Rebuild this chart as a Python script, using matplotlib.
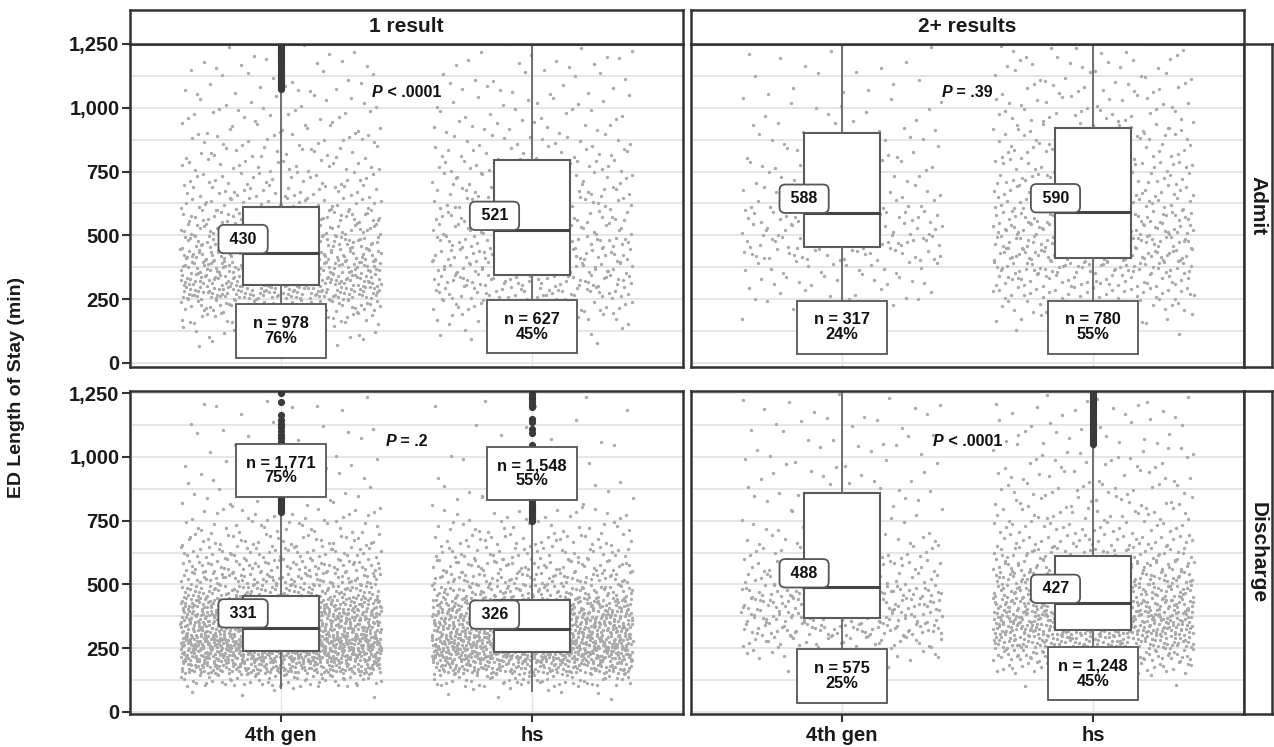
import matplotlib
matplotlib.use("Agg")
import matplotlib.pyplot as plt
from matplotlib.patches import Rectangle
from matplotlib.offsetbox import TextArea, HPacker, AnnotationBbox

plt.rcParams['font.family'] = ['Liberation Sans', 'DejaVu Sans']

# ---------------- data ----------------
rows = ['Admit', 'Discharge']
cols = ['1 result', '2+ results']
cats = ['4th gen', 'hs']
yticks = [0, 250, 500, 750, 1000, 1250]
ytick_labels = ['0', '250', '500', '750', '1,000', '1,250']

# counts of observations in 50-min bins from 0 to 1250 (estimated from the dot clouds)
bin_lo = list(range(0, 1250, 50))
admit_1_4th = [0, 8, 15, 35, 60, 110, 110, 100, 90, 75, 60, 55, 38, 30, 25, 22, 20, 18, 15, 13, 11, 10, 8, 7, 6]
admit_1_hs = [0, 4, 10, 18, 28, 45, 52, 48, 46, 44, 34, 33, 30, 28, 26, 24, 18, 15, 13, 11, 10, 9, 8, 7, 6]
admit_2_4th = [0, 0, 0, 2, 6, 10, 13, 16, 28, 30, 30, 28, 16, 14, 12, 12, 11, 10, 8, 6, 5, 5, 4, 4, 3]
admit_2_hs = [0, 0, 3, 12, 25, 35, 40, 55, 60, 58, 55, 50, 38, 33, 30, 28, 25, 24, 22, 18, 16, 14, 12, 11, 10]
disch_1_4th = [0, 5, 60, 170, 240, 270, 200, 190, 170, 100, 80, 65, 50, 35, 25, 18, 12, 10, 8, 7, 6, 5, 5, 4, 4]
disch_1_hs = [0, 8, 55, 150, 220, 230, 190, 175, 145, 90, 70, 55, 40, 30, 22, 15, 10, 7, 5, 4, 3, 3, 3, 2, 3]
disch_2_4th = [0, 0, 0, 3, 20, 35, 58, 62, 62, 56, 35, 30, 25, 18, 10, 9, 9, 8, 8, 7, 7, 6, 6, 6, 5]
disch_2_hs = [0, 0, 5, 40, 80, 120, 150, 150, 120, 100, 85, 70, 50, 35, 28, 24, 20, 18, 15, 13, 12, 10, 9, 8, 7]

# box statistics, order: A1-4th, A1-hs, A2-4th, A2-hs, D1-4th, D1-hs, D2-4th, D2-hs
medians = [430, 521, 588, 590, 331, 326, 488, 427]
q1s = [306, 343, 456, 413, 239, 235, 368, 321]
q3s = [612, 795, 902, 921, 456, 439, 859, 612]
whis_lo = [60, 55, 195, 130, 95, 84, 210, 150]
whis_hi = [1071, 1450, 1450, 1450, 781, 745, 1450, 1048]
outliers_a1_4th = [1072, 1080, 1088, 1095, 1103, 1110, 1118, 1126, 1134, 1142, 1150, 1158, 1166,
                   1174, 1182, 1190, 1198, 1206, 1214, 1222, 1230, 1238, 1246]
outliers_d1_4th = [785, 792, 800, 808, 816, 824, 832, 840, 850, 860, 870, 880, 890, 900, 910, 920,
                   930, 940, 950, 960, 970, 980, 990, 1000, 1010, 1020, 1030, 1040, 1050, 1060,
                   1072, 1085, 1100, 1115, 1130, 1144, 1164, 1216, 1250]
outliers_d1_hs = [748, 755, 762, 770, 778, 786, 795, 805, 815, 825, 835, 850, 870, 890, 910, 930,
                  950, 970, 990, 1010, 1030, 1046, 1095, 1110, 1135, 1150, 1195, 1205, 1215, 1225,
                  1235, 1245]
outliers_d2_hs = [1050, 1058, 1066, 1074, 1082, 1090, 1098, 1106, 1114, 1122, 1130, 1138, 1146,
                  1154, 1162, 1170, 1178, 1186, 1194, 1202, 1210, 1218, 1226, 1234, 1242, 1250]
n_labels = ['n = 978\n76%', 'n = 627\n45%', 'n = 317\n24%', 'n = 780\n55%',
            'n = 1,771\n75%', 'n = 1,548\n55%', 'n = 575\n25%', 'n = 1,248\n45%']
n_label_y = [125, 141, 139, 139, 948, 936, 141, 149]
p_labels = [('P', ' < .0001'), ('P', ' = .39'), ('P', ' = .2'), ('P', ' < .0001')]
p_label_y = [1058, 1058, 1062, 1062]

bins = [admit_1_4th, admit_1_hs, admit_2_4th, admit_2_hs,
        disch_1_4th, disch_1_hs, disch_2_4th, disch_2_hs]
outliers = [outliers_a1_4th, [], [], [], outliers_d1_4th, outliers_d1_hs, [], outliers_d2_hs]

# ---------------- layout ----------------
W, H = 1274, 747
fig = plt.figure(figsize=(W / 100, H / 100), dpi=100)
fig.patch.set_facecolor('white')


def rect(x0, y0, x1, y1):
    return [x0 / W, 1 - y1 / H, (x1 - x0) / W, (y1 - y0) / H]


col_px = [(130, 683), (691, 1244)]
row_px = [(44, 367), (391, 714)]
ylims = [(-16, 1250), (-8, 1258)]
BORDER = '#333333'
GRID = '#e4e4e4'
DOT = '#a9a9a9'


def vdc(k, base):
    f, res = 1.0, 0.0
    while k > 0:
        f /= base
        res += f * (k % base)
        k //= base
    return res


def jitter_points(counts, pos, start, width=0.4):
    # deterministic low-discrepancy (Halton) placement of each counted observation in its bin
    xs, ys = [], []
    k = start
    for lo, c in zip(bin_lo, counts):
        for _ in range(c):
            k += 1
            xs.append(pos + width * (2 * vdc(k, 2) - 1))
            ys.append(lo + 50 * vdc(k, 3))
    return xs, ys


for r in range(2):
    for c in range(2):
        x0, x1 = col_px[c]
        y0, y1 = row_px[r]
        ax = fig.add_axes(rect(x0, y0, x1, y1))
        ax.set_xlim(0.4, 2.6)
        ax.set_ylim(*ylims[r])
        for v in range(0, 1251, 125):
            ax.axhline(v, color=GRID, lw=1.3, zorder=0)
        for p in (1, 2):
            ax.axvline(p, color=GRID, lw=1.0, zorder=0)

        stats = []
        for j in range(2):
            g = r * 4 + c * 2 + j
            xs, ys = jitter_points(bins[g], j + 1, start=17 + 311 * g)
            ax.plot(xs, ys, 'o', ms=2.4, color=DOT, mec='none', zorder=2)
            stats.append(dict(med=medians[g], q1=q1s[g], q3=q3s[g],
                              whislo=whis_lo[g], whishi=whis_hi[g], fliers=outliers[g]))
        ax.bxp(stats, positions=[1, 2], widths=0.3, patch_artist=True, showcaps=False,
               manage_ticks=False,
               boxprops=dict(facecolor='white', edgecolor='#5a5a5a', lw=1.5),
               medianprops=dict(color='#444444', lw=2.2),
               whiskerprops=dict(color='#666666', lw=1.3),
               flierprops=dict(marker='o', ms=5.2, mfc='#3a3a3a', mec='none'),
               zorder=3)

        for j in range(2):
            g = r * 4 + c * 2 + j
            p = j + 1
            ax.annotate(f' {medians[g]} ', xy=(p - 0.15, medians[g]), xytext=(0, 4.8),
                        textcoords='offset points', ha='center', va='bottom',
                        fontsize=11.5, fontweight='bold', color='#111111', zorder=6,
                        bbox=dict(boxstyle='round,pad=0.42,rounding_size=0.35',
                                  fc='white', ec='#555555', lw=1.3))
            ax.add_patch(Rectangle((p - 0.179, n_label_y[g] - 104), 0.358, 208,
                                   fc='white', ec='#555555', lw=1.3, zorder=6))
            ax.text(p, n_label_y[g], n_labels[g], ha='center', va='center', fontsize=11.8,
                    fontweight='bold', linespacing=1.0, color='#111111', zorder=7)

        pi = r * 2 + c
        pbox = HPacker(children=[
            TextArea(p_labels[pi][0], textprops=dict(style='italic', weight='bold', size=11.5, color='#111111')),
            TextArea(p_labels[pi][1], textprops=dict(weight='bold', size=11.5, color='#111111'))],
            pad=0, sep=0, align='baseline')
        ab = AnnotationBbox(pbox, (1.5, p_label_y[pi]), frameon=False, box_alignment=(0.5, 0.5),
                            zorder=8)
        ax.add_artist(ab)

        for s in ax.spines.values():
            s.set_color(BORDER)
            s.set_linewidth(1.8)
            s.set_zorder(10)
        if c == 0:
            ax.set_yticks(yticks)
            ax.set_yticklabels(ytick_labels, fontsize=14.5, fontweight='bold', color='#1a1a1a')
            ax.tick_params(axis='y', length=5.5, width=1.5, color=BORDER, pad=2)
        else:
            ax.set_yticks([])
        if r == 1:
            ax.set_xticks([1, 2])
            ax.set_xticklabels(cats, fontsize=14.5, fontweight='bold', color='#1a1a1a')
            ax.tick_params(axis='x', length=5.5, width=1.5, color=BORDER, pad=3)
        else:
            ax.set_xticks([])

# strips
for c in range(2):
    x0, x1 = col_px[c]
    sax = fig.add_axes(rect(x0, 10, x1, 44))
    sax.set_xticks([]); sax.set_yticks([])
    for s in sax.spines.values():
        s.set_color(BORDER); s.set_linewidth(1.8)
    sax.text(0.5, 0.5, cols[c], ha='center', va='center', fontsize=15, fontweight='bold',
             color='#1a1a1a', transform=sax.transAxes)
for r in range(2):
    y0, y1 = row_px[r]
    sax = fig.add_axes(rect(1244, y0, 1272, y1))
    sax.set_xticks([]); sax.set_yticks([])
    for s in sax.spines.values():
        s.set_color(BORDER); s.set_linewidth(1.8)
    sax.text(0.5, 0.5, rows[r], ha='center', va='center', rotation=-90, fontsize=15,
             fontweight='bold', color='#1a1a1a', transform=sax.transAxes)

fig.text(17 / W, 1 - 387 / H, 'ED Length of Stay (min)', rotation=90, ha='center', va='center',
         fontsize=14, fontweight='bold', color='#1a1a1a')

fig.savefig('out.png', dpi=100, facecolor='white')
